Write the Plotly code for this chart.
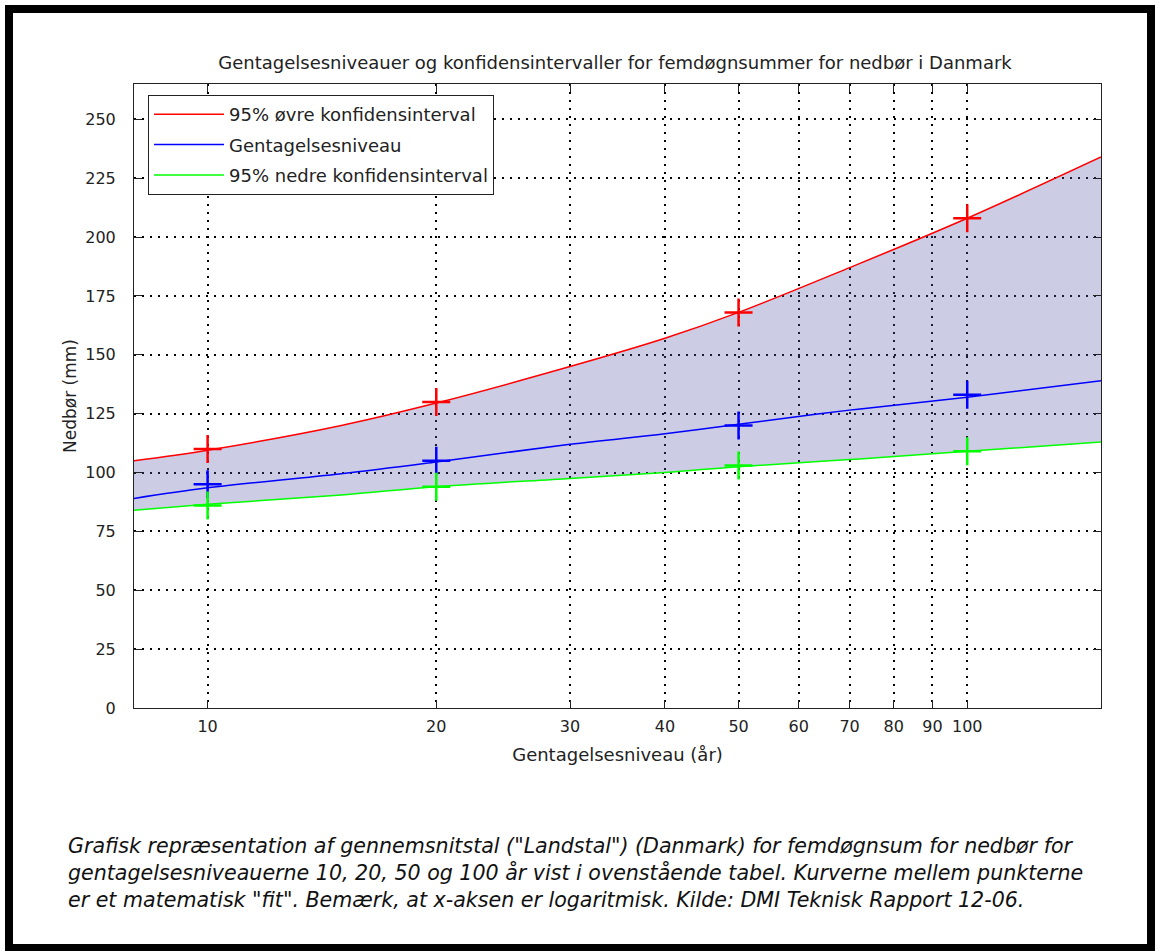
import plotly.graph_objects as go

# ---- data ----
x_points = [10, 20, 50, 100]
upper_pts = [110, 130, 168, 208]
level_pts = [95, 105, 120, 133]
lower_pts = [86, 94, 103, 109]

x_curve = [8, 10, 15, 20, 30, 40, 50, 70, 100, 150]
upper_curve = [105, 109.5, 120, 129.5, 145, 157, 168, 187, 208, 234]
level_curve = [89, 93.5, 99.5, 104.5, 112, 116.5, 120.5, 126.5, 132, 139]
lower_curve = [84, 86.5, 90.5, 94, 97.5, 100, 102.5, 105.5, 109, 113]

x_ticks = [10, 20, 30, 40, 50, 60, 70, 80, 90, 100]
y_ticks = [0, 25, 50, 75, 100, 125, 150, 175, 200, 225, 250]

title = "Gentagelsesniveauer og konfidensintervaller for femdøgnsummer for nedbør i Danmark"
xlabel = "Gentagelsesniveau (år)"
ylabel = "Nedbør (mm)"
names = ["95% øvre konfidensinterval", "Gentagelsesniveau", "95% nedre konfidensinterval"]
caption = ("Grafisk repræsentation af gennemsnitstal (\"Landstal\") (Danmark) for femdøgnsum for nedbør for<br>"
           "gentagelsesniveauerne 10, 20, 50 og 100 år vist i ovenstående tabel. Kurverne mellem punkterne<br>"
           "er et matematisk \"fit\". Bemærk, at x-aksen er logaritmisk. Kilde: DMI Teknisk Rapport 12-06.")

W, H = 1155, 951
L, R, T, B = 134, 54, 84, 243
pw, ph = W - L - R, H - T - B
FONT = "DejaVu Sans, Liberation Sans, Arial"
TXT = "#222"

def px(x):
    return (x - L) / pw

def py(y):
    return (H - B - y) / ph

fig = go.Figure()

# shaded band between upper and lower curves
fig.add_trace(go.Scatter(x=x_curve, y=lower_curve, mode="lines", line=dict(width=0, shape="spline"),
                         showlegend=False, hoverinfo="skip"))
fig.add_trace(go.Scatter(x=x_curve, y=upper_curve, mode="lines", line=dict(width=0, shape="spline"),
                         fill="tonexty", fillcolor="rgba(85,85,165,0.30)",
                         showlegend=False, hoverinfo="skip"))

colors = ["#ff0000", "#0000ff", "#00ff00"]
curves = [upper_curve, level_curve, lower_curve]
pts = [upper_pts, level_pts, lower_pts]
for i in range(3):
    fig.add_trace(go.Scatter(x=x_curve, y=curves[i], mode="lines", name=names[i],
                             line=dict(color=colors[i], width=1.5, shape="spline"),
                             legendgroup=f"g{i}"))
for i in range(3):
    fig.add_trace(go.Scatter(x=x_points, y=pts[i], mode="markers", showlegend=False,
                             marker=dict(symbol="cross-thin", size=20,
                                         line=dict(color=colors[i], width=2.5))))

axis_common = dict(showline=True, linecolor=TXT, linewidth=1, mirror="allticks",
                   ticks="inside", ticklen=8, tickcolor=TXT, tickwidth=1.2,
                   showgrid=True, gridcolor="#000", gridwidth=1.5, griddash="2px,6px",
                   zeroline=False, tickfont=dict(family=FONT, size=16, color=TXT))

fig.update_xaxes(type="log", range=[0.9031, 2.1761], tickvals=x_ticks,
                 ticktext=[str(v) for v in x_ticks], ticklabelstandoff=4, **axis_common,
                 title=dict(text=xlabel, font=dict(family=FONT, size=18, color=TXT), standoff=13))
fig.update_yaxes(range=[0, 265], tickvals=y_ticks, ticklabelstandoff=14, **axis_common,
                 title=dict(text=ylabel, font=dict(family=FONT, size=17, color=TXT), standoff=4))

fig.update_layout(
    width=W, height=H,
    margin=dict(l=L, r=R, t=T, b=B),
    paper_bgcolor="white", plot_bgcolor="white",
    title=dict(text=title, x=615 / W, xanchor="center", y=1 - 63 / H, yanchor="middle",
               font=dict(family=FONT, size=18, color=TXT)),
    legend=dict(x=px(148), y=py(95), xanchor="left", yanchor="top",
                bgcolor="white", bordercolor=TXT, borderwidth=1,
                font=dict(family=FONT, size=18, color=TXT),
                tracegroupgap=4, itemwidth=70),
    showlegend=True,
)

# outer black frame
fig.add_shape(type="rect", xref="paper", yref="paper",
              x0=px(9), x1=px(1151), y0=py(948), y1=py(9),
              line=dict(color="black", width=8), fillcolor="rgba(0,0,0,0)", layer="above")

fig.add_annotation(text=caption, xref="paper", yref="paper", x=px(66), y=py(832),
                   xanchor="left", yanchor="top", align="left", showarrow=False,
                   font=dict(family=FONT, size=20.6, color="#111", style="italic"))

fig.write_html("out.html", config={"displayModeBar": False},
               post_script="document.body.style.margin='0';")
